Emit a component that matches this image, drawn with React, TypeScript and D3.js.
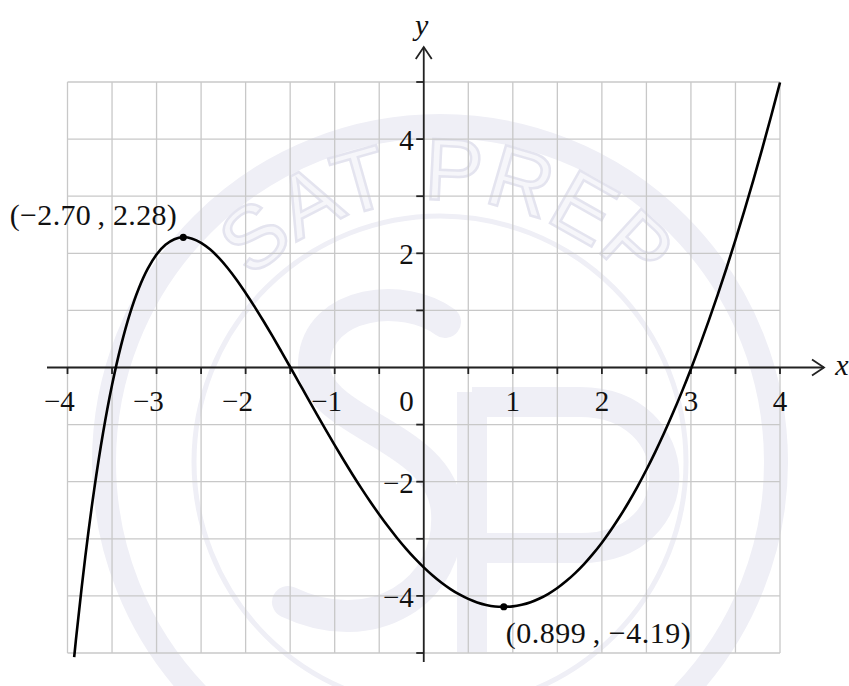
import React from "react";
import * as d3 from "d3";

// Samples (x, y) along the graph of f
const curveX = [
  -3.925, -3.9, -3.8, -3.7, -3.6, -3.5, -3.4, -3.3, -3.2, -3.1, -3.0, -2.9, -2.8, -2.7, -2.6, -2.5, -2.4,
  -2.3, -2.2, -2.1, -2.0, -1.9, -1.8, -1.7, -1.6, -1.5, -1.4, -1.3, -1.2, -1.1, -1.0, -0.9, -0.8, -0.7,
  -0.6, -0.5, -0.4, -0.3, -0.2, -0.1, 0.0, 0.1, 0.2, 0.3, 0.4, 0.5, 0.6, 0.7, 0.8, 0.899, 1.0, 1.1, 1.2,
  1.3, 1.4, 1.5, 1.6, 1.7, 1.8, 1.9, 2.0, 2.1, 2.2, 2.3, 2.4, 2.5, 2.6, 2.7, 2.8, 2.9, 3.0, 3.1, 3.2, 3.3,
  3.4, 3.5, 3.6, 3.7, 3.8, 3.9, 4.0,
];
const curveY = [
  -5.071, -4.691, -3.311, -2.134, -1.139, -0.308, 0.378, 0.94, 1.385, 1.727, 1.978, 2.148, 2.246, 2.28,
  2.256, 2.184, 2.069, 1.919, 1.738, 1.533, 1.305, 1.067, 0.815, 0.553, 0.283, 0.009, -0.268, -0.545,
  -0.82, -1.092, -1.359, -1.62, -1.873, -2.117, -2.351, -2.574, -2.786, -2.985, -3.171, -3.343, -3.5,
  -3.642, -3.769, -3.88, -3.975, -4.053, -4.114, -4.158, -4.185, -4.19, -4.184, -4.156, -4.111, -4.046,
  -3.963, -3.862, -3.741, -3.601, -3.443, -3.265, -3.068, -2.851, -2.615, -2.36, -2.085, -1.791, -1.477,
  -1.144, -0.79, -0.418, -0.025, 0.387, 0.82, 1.272, 1.743, 2.235, 2.746, 3.278, 3.829, 4.4, 4.991,
];

// Turning points marked on the curve
const turnX = [-2.7, 0.899];
const turnY = [2.28, -4.19];
const turnXDigits = [2, 3];
const turnYDigits = [2, 2];

// Axis labels
const xTickValues = [-4, -3, -2, -1, 0, 1, 2, 3, 4];
const yTickValues = [-4, -2, 2, 4];

// Badge lettering around the top arc: word and its position along the arc (0..1)
const badgeWords = ["SAT", "PREP"];
const badgeOffsets = [0.265, 0.69];

const W = 849;
const H = 686;
const FONT = "'Liberation Serif', 'Times New Roman', serif";
const GRID = "#c8c8c8";
const AXIS = "#222";
const WM = "#efeff6";
const WM_LINE = "#e4e4ef";

export default function App() {
  const x = d3.scaleLinear().domain([-4, 4]).range([67.5, 780]);
  const y = d3.scaleLinear().domain([-5, 5]).range([653, 82]);

  const pts: [number, number][] = curveX.map((v, i) => [v, curveY[i]]);
  const line = d3
    .line<[number, number]>()
    .x((d) => x(d[0]))
    .y((d) => y(d[1]))
    .curve(d3.curveCatmullRom.alpha(0.5));

  const vGrid = d3.range(-4, 4.001, 0.5);
  const hGrid = d3.range(-5, 5.001, 1);
  const xMinor = d3.range(-4, 4.001, 0.5).filter((v) => v !== 0);
  const yMinor = d3.range(-5, 5.001, 1).filter((v) => v !== 0);

  const x0 = x(0);
  const y0 = y(0);

  const label = (i: number) =>
    `(${d3.format(`.${turnXDigits[i]}f`)(turnX[i])}\u2009, ${d3.format(`.${turnYDigits[i]}f`)(turnY[i])})`;

  // background badge geometry
  const wcx = 440;
  const wcy = 462;
  const textR = 262;
  const a0 = Math.PI * 0.17;
  const arcPath = `M ${wcx - textR * Math.cos(a0)} ${wcy - textR * Math.sin(a0)} A ${textR} ${textR} 0 0 1 ${wcx + textR * Math.cos(a0)} ${wcy - textR * Math.sin(a0)}`;

  return (
    <svg
      width={W}
      height={H}
      viewBox={`0 0 ${W} ${H}`}
      style={{ position: "absolute", left: 0, top: 0, background: "#fff" }}
    >
      <rect width={W} height={H} fill="#fff" />

      {/* faint background badge */}
      <g fill="none">
        <circle cx={wcx} cy={wcy} r={336} stroke={WM} strokeWidth={24} />
        <circle cx={wcx} cy={wcy} r={246} stroke={WM} strokeWidth={5} />
        <path
          d="M 445 322 C 405 292, 318 300, 314 362 C 310 425, 442 432, 447 512 C 452 592, 372 642, 288 602"
          stroke={WM}
          strokeWidth={32}
          strokeLinecap="round"
        />
        <path
          d="M 472 392 L 472 652 M 472 402 L 580 402 C 690 402, 695 548, 580 548 L 472 548"
          stroke={WM}
          strokeWidth={30}
        />
        <defs>
          <path id="badge-arc" d={arcPath} />
        </defs>
        {badgeWords.map((w, i) => (
          <text
            key={w}
            fontFamily="'Liberation Sans', sans-serif"
            fontSize={88}
            fill="#f6f6fa"
            stroke={WM_LINE}
            strokeWidth={2.5}
          >
            <textPath href="#badge-arc" startOffset={`${badgeOffsets[i] * 100}%`} textAnchor="middle">
              {w}
            </textPath>
          </text>
        ))}
      </g>

      {/* grid */}
      <g stroke={GRID} strokeWidth={1.3}>
        {vGrid.map((v) => (
          <line key={`v${v}`} x1={x(v)} x2={x(v)} y1={y(5)} y2={y(-5)} />
        ))}
        {hGrid.map((v) => (
          <line key={`h${v}`} x1={x(-4)} x2={x(4)} y1={y(v)} y2={y(v)} />
        ))}
      </g>

      {/* axes */}
      <g stroke={AXIS} strokeWidth={1.8} fill="none">
        <line x1={47} x2={824} y1={y0} y2={y0} />
        <line x1={x0} x2={x0} y1={662} y2={47} />
        <polyline points={`${812},${y0 - 8} 824,${y0} ${812},${y0 + 8}`} />
        <polyline points={`${x0 - 8},${59} ${x0},${47} ${x0 + 8},${59}`} />
        {xMinor.map((v) => (
          <line key={`xt${v}`} x1={x(v)} x2={x(v)} y1={y0} y2={y0 + 6.5} />
        ))}
        {yMinor.map((v) => (
          <line key={`yt${v}`} x1={x0 - 7.5} x2={x0} y1={y(v)} y2={y(v)} />
        ))}
      </g>

      {/* tick labels */}
      <g fontFamily={FONT} fontSize={29} fill="#111">
        {xTickValues.map((v) => (
          <text key={`xl${v}`} x={v === 0 ? x0 - 10 : x(v) + 7.3} y={411} textAnchor="end">
            {d3.format("d")(v)}
          </text>
        ))}
        {yTickValues.map((v) => (
          <text key={`yl${v}`} x={x0 - 10} y={y(v) + 11} textAnchor="end">
            {d3.format("d")(v)}
          </text>
        ))}
      </g>

      {/* axis names */}
      <text x={x0 - 2} y={35} textAnchor="middle" fontFamily={FONT} fontStyle="italic" fontSize={30} fill="#111">
        y
      </text>
      <text x={842} y={y0 + 7} textAnchor="middle" fontFamily={FONT} fontStyle="italic" fontSize={30} fill="#111">
        x
      </text>

      {/* curve */}
      <path d={line(pts) ?? ""} fill="none" stroke="#000" strokeWidth={2.6} strokeLinejoin="round" />

      {/* turning points */}
      {turnX.map((v, i) => (
        <circle key={`tp${i}`} cx={x(v)} cy={y(turnY[i])} r={3.6} fill="#000" />
      ))}
      <text
        x={x(turnX[0]) - 6.5}
        y={y(turnY[0]) - 12}
        textAnchor="end"
        fontFamily={FONT}
        fontSize={30}
        fill="#111"
        textLength={167}
        lengthAdjust="spacing"
      >
        {label(0)}
      </text>
      <text
        x={x(turnX[1]) + 2}
        y={y(turnY[1]) + 36.5}
        textAnchor="start"
        fontFamily={FONT}
        fontSize={30}
        fill="#111"
        textLength={185}
        lengthAdjust="spacing"
      >
        {label(1)}
      </text>
    </svg>
  );
}
